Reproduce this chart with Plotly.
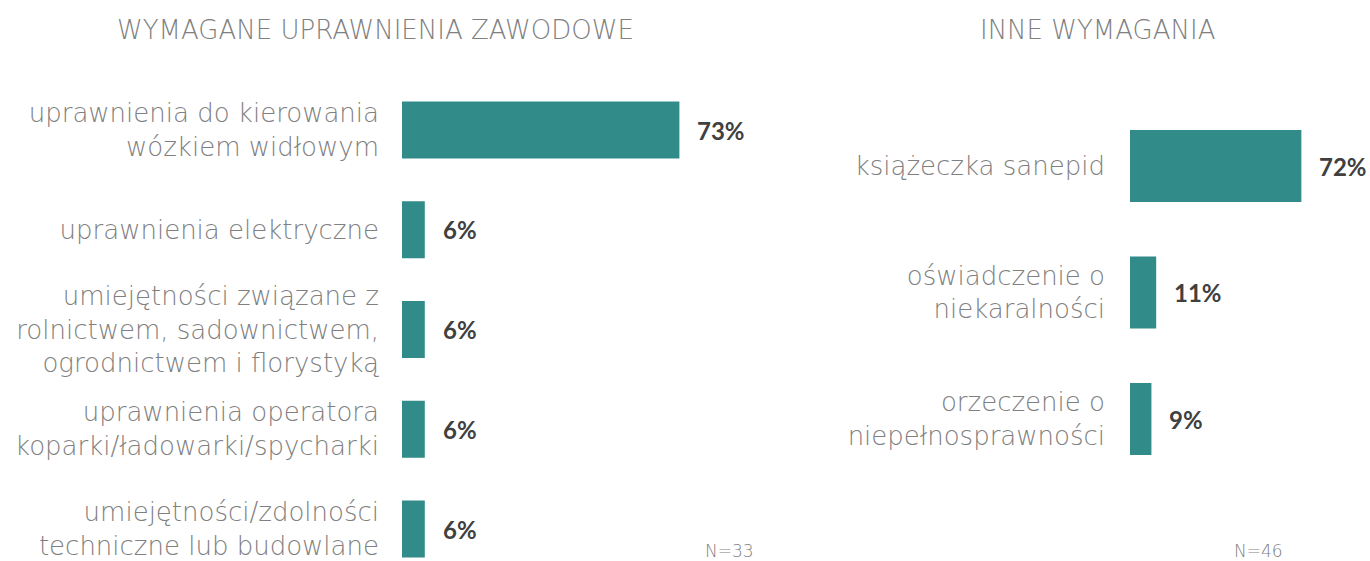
import plotly.graph_objects as go

left_title = "WYMAGANE UPRAWNIENIA ZAWODOWE"
left_categories = [
    "uprawnienia do kierowania<br>wózkiem widłowym",
    "uprawnienia elektryczne",
    "umiejętności związane z<br>rolnictwem, sadownictwem,<br>ogrodnictwem i florystyką",
    "uprawnienia operatora<br>koparki/ładowarki/spycharki",
    "umiejętności/zdolności<br>techniczne lub budowlane",
]
left_values = [73, 6, 6, 6, 6]
left_n = "N=33"

right_title = "INNE WYMAGANIA"
right_categories = [
    "książeczka sanepid",
    "oświadczenie o<br>niekaralności",
    "orzeczenie o<br>niepełnosprawności",
]
right_values = [72, 11, 9]
right_n = "N=46"

W, H = 1370, 561
BAR = "#318B89"
LABEL_FONT = "DejaVu Sans, sans-serif"
VAL_FONT = "Lato, sans-serif"
GRAY = "#808080"
DARK = "#404040"

fig = go.Figure()
fig.add_trace(go.Bar(x=left_values, y=left_categories, orientation="h",
                     marker=dict(color=BAR, line=dict(width=0)), width=0.57,
                     xaxis="x", yaxis="y", hoverinfo="skip"))
fig.add_trace(go.Bar(x=right_values, y=right_categories, orientation="h",
                     marker=dict(color=BAR, line=dict(width=0)), width=0.57,
                     xaxis="x2", yaxis="y2", hoverinfo="skip"))

annotations = []
for cat, v in zip(left_categories, left_values):
    annotations.append(dict(x=v, y=cat, xref="x", yref="y", text=f"<b>{v}%</b>",
                            showarrow=False, xanchor="left", xshift=16,
                            font=dict(family=VAL_FONT, size=24, color=DARK)))
for cat, v in zip(right_categories, right_values):
    annotations.append(dict(x=v, y=cat, xref="x2", yref="y2", text=f"<b>{v}%</b>",
                            showarrow=False, xanchor="left", xshift=16,
                            font=dict(family=VAL_FONT, size=24, color=DARK)))

annotations += [
    dict(x=375 / W, y=1 - 30 / H, xref="paper", yref="paper", text=left_title,
         showarrow=False, xanchor="center", yanchor="middle",
         font=dict(family=LABEL_FONT, size=26, color=GRAY, weight=200)),
    dict(x=1097 / W, y=1 - 30 / H, xref="paper", yref="paper", text=right_title,
         showarrow=False, xanchor="center", yanchor="middle",
         font=dict(family=LABEL_FONT, size=26, color=GRAY, weight=200)),
    dict(x=729 / W, y=1 - 551 / H, xref="paper", yref="paper", text=left_n,
         showarrow=False, xanchor="center", yanchor="middle",
         font=dict(family=LABEL_FONT, size=17, color=GRAY, weight=200)),
    dict(x=1258 / W, y=1 - 551 / H, xref="paper", yref="paper", text=right_n,
         showarrow=False, xanchor="center", yanchor="middle",
         font=dict(family=LABEL_FONT, size=17, color=GRAY, weight=200)),
]

ax_common = dict(showgrid=False, zeroline=False, showline=False, fixedrange=True)

fig.update_layout(
    width=W, height=H,
    margin=dict(l=0, r=0, t=0, b=0),
    paper_bgcolor="white", plot_bgcolor="white",
    showlegend=False,
    annotations=annotations,
    xaxis=dict(domain=[402 / W, 782 / W], range=[0, 100], showticklabels=False, **ax_common),
    yaxis=dict(domain=[0, 1], range=[4 + (H - 529) / 99.75, -130 / 99.75],
               tickfont=dict(family=LABEL_FONT, size=26, color=GRAY, weight=200),
               ticks="", ticklabelstandoff=22, automargin=False, **ax_common),
    xaxis2=dict(domain=[1130 / W, 1368 / W], range=[0, 100], showticklabels=False,
                anchor="y2", **ax_common),
    yaxis2=dict(domain=[0, 1], range=[2 + (H - 419) / 126.5, -166 / 126.5], anchor="x2",
                tickfont=dict(family=LABEL_FONT, size=26, color=GRAY, weight=200),
                ticks="", ticklabelstandoff=24, automargin=False, **ax_common),
)

fig.write_html("out.html", config={"displayModeBar": False},
               post_script="document.body.style.margin='0';document.body.style.padding='0';")
